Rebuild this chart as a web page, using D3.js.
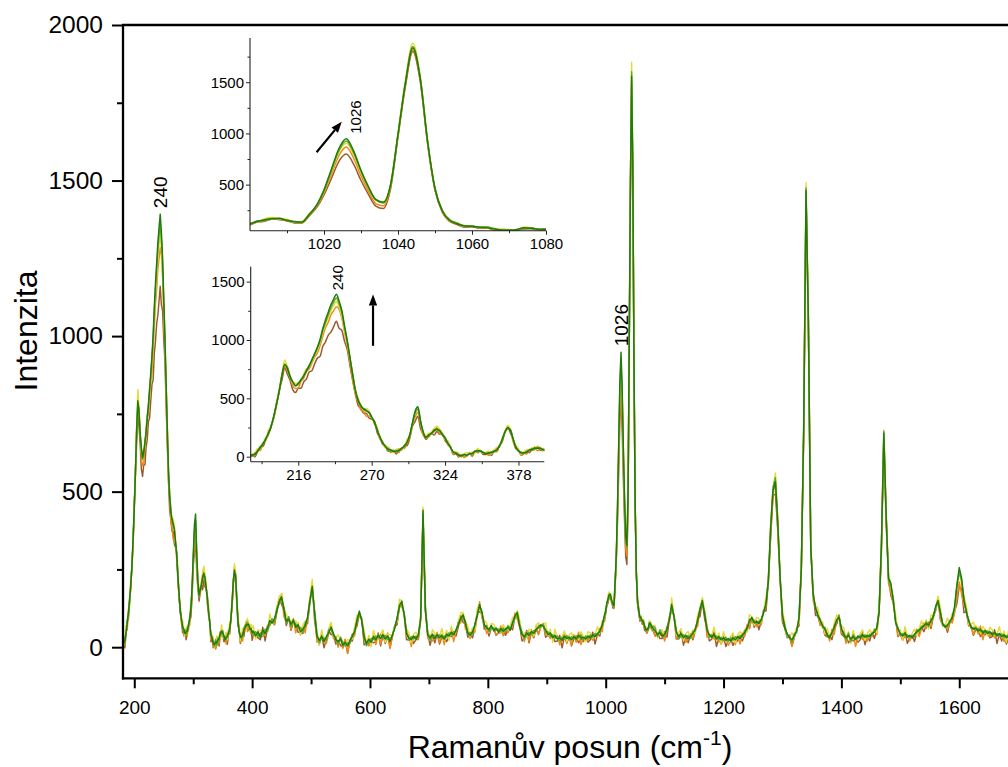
<!DOCTYPE html>
<html>
<head>
<meta charset="utf-8">
<script src="https://cdn.jsdelivr.net/npm/d3@7"></script>
<style>
  html, body { margin: 0; padding: 0; background: #fff; }
  svg { display: block; }
</style>
</head>
<body>
<svg id="chart" width="1008" height="767"></svg>
<script>
// Raman shift sampling blocks [start, end, step] in cm-1 (finer around the two zoomed regions)
const shiftBlocks = [[180, 400, 2], [402, 998, 4], [1000, 1080, 2], [1084, 1700, 4]];

// Spectra, ordered from the earliest (brown) to the latest (dark green) measurement
const spectrumBrown = [
  -12,18,-2,42,84,88,144,190,259,332, 442,574,656,760,706,652,572,549,586,586,
  642,666,726,736,793,844,860,944,983,1040, 1067,1112,1160,1101,1083,990,920,782,656,544,
  440,414,373,372,331,321,304,208,166,108, 92,46,52,52,24,50,58,92,94,157,
  260,303,346,238,190,148,178,200,185,216, 193,196,138,112,86,18,26,-2,12,-4,
  8,32,4,42,38,50,18,18,40,10, 46,44,96,128,206,256,204,150,68,56,
  12,28,46,34,60,60,76,54,52,68,22,
  38,40,30,24,64,20,60,72,82,72, 112,156,138,118,70,94,54,82,72,48,
  48,44,72,76,144,204,86,32,8,40, -2,28,54,40,42,10,22,6,0,24,
  -20,20,20,56,68,110,92,8,10,12, 20,14,18,46,4,38,12,40,-2,34,
  68,72,132,134,108,24,24,32,12,24, 26,96,420,114,46,6,40,14,44,10,
  32,34,18,34,34,44,36,66,102,80, 74,32,42,30,64,112,114,108,58,66,
  36,64,60,38,46,46,56,38,58,62, 56,98,98,70,20,28,54,14,48,30,
  62,42,66,76,32,38,32,34,18,20, 38,-2,34,14,36,4,28,34,14,28,
  18,30,16,24,48,10,42,36,76,84,
  108,134,142,166,156,150,126,126,194,275, 400,560,725,798,700,540,405,290,266,460,
  965,1460,1800,1510,900,446,228,140,110,84, 88,74,78,54,52,45,56,66,68,56, 54,
  38,44,28,28,50,32,88,124,100,26, 28,52,6,36,14,40,24,52,92,98,
  148,90,58,20,26,50,2,32,10,34, 2,22,28,6,22,20,32,20,40,70,
  60,94,64,86,56,84,118,116,208,356, 489,492,379,228,80,60,30,34,4,30,
  60,68,248,671,1447,1010,314,180,102,102, 72,74,38,34,38,24,62,74,100,42,
  34,38,14,24,20,28,16,24,48,8, 36,20,48,28,56,120,306,666,391,226,
  165,144,90,34,42,22,50,12,32,38, 18,46,42,66,50,70,80,60,98,118,
  154,90,70,72,48,78,82,114,140,195, 190,111,114,70,70,38,56,60,34,44,
  40,48,30,34,56,12,42,20,44,10, 32,36,12,28,20
];
const spectrumOrange = [
  -16,20,8,58,54,110,154,188,259,334, 454,556,695,770,743,681,606,584,590,646,
  674,730,752,801,852,886,952,1030,1106,1150, 1214,1250,1284,1262,1190,1070,950,806,660,530,
  470,401,387,346,349,335,280,236,150,128, 78,76,36,42,56,36,76,70,120,163,
  277,340,381,280,180,172,166,208,214,248, 200,190,166,102,82,24,34,2,18,-6,
  12,32,12,48,34,52,28,34,10,32, 56,42,96,130,218,238,238,130,80,60,
  16,38,20,64,52,84,50,72,66,44,50,
  34,42,40,40,34,42,70,70,82,74, 124,138,172,98,82,98,58,92,46,78,
  40,68,46,94,158,180,114,16,28,26, 28,12,44,72,28,28,0,32,-4,26,
  -18,20,42,36,92,98,90,22,22,4, 14,42,8,42,10,46,16,46,-4,38,
  68,80,138,130,110,34,40,2,34,34, 24,96,422,126,28,40,20,26,48,14,
  42,8,48,26,58,18,54,80,78,108, 58,52,28,60,48,102,146,94,76,44,
  62,60,62,40,46,68,36,62,46,60, 70,110,90,64,48,18,50,20,56,34,
  68,40,70,76,40,44,28,36,28,36, 8,20,44,12,36,6,40,16,48,8,
  30,34,20,34,22,40,34,60,50,102,
  110,144,146,164,170,142,136,124,202,286, 420,600,780,868,760,585,435,315,293,480,
  980,1475,1815,1520,908,452,234,142,120,88, 96,78,82,60,62,47,62,70,78,58, 58,
  34,46,38,44,20,54,98,122,100,28, 40,34,40,16,26,44,28,62,66,128,
  140,114,32,38,40,26,30,16,30,20, 32,6,18,38,8,38,10,46,36,72,
  62,94,86,66,80,72,116,130,220,363, 493,530,374,214,86,68,34,40,2,34,
  60,76,254,682,1458,1040,330,150,124,112, 70,74,40,46,20,58,42,86,104,46,
  44,12,44,16,44,2,34,38,24,36, 20,40,34,58,40,110,338,672,424,204,
  176,140,92,36,42,44,30,36,20,36, 32,58,34,60,78,60,76,66,106,122,
  160,88,74,72,56,84,78,110,160,210, 170,133,124,68,70,40,68,42,68,24,
  52,52,34,44,30,42,34,44,18,28, 46,12,40,12,40
];
const spectrumYellow = [
  18,4,24,70,72,124,132,224,257,344, 462,582,715,828,770,700,628,630,630,647,
  708,751,772,816,869,916,979,1061,1132,1188, 1252,1293,1330,1280,1210,1094,976,842,714,552,
  504,438,404,412,392,332,302,254,164,134, 74,86,60,36,62,68,62,94,146,184,
  284,368,408,304,198,182,200,212,244,260, 236,204,144,138,80,34,42,28,-2,22,
  36,20,40,30,72,48,30,38,48,24, 54,80,88,160,208,268,240,144,96,68,
  22,40,60,54,74,60,92,76,50,74,62,
  68,26,56,52,52,56,48,106,80,84, 132,164,172,126,106,86,86,74,84,74,
  42,72,84,86,156,218,106,46,8,56, 20,26,60,80,34,30,40,22,18,2,
  24,24,26,66,104,106,90,54,8,38, 2,54,26,30,42,56,16,42,40,36,
  72,82,154,150,96,58,46,14,42,48, 36,104,450,140,40,22,56,44,30,36,
  60,22,54,22,68,42,48,86,110,112, 82,68,34,62,56,124,140,102,86,78,
  46,76,74,58,60,46,72,60,56,68, 96,90,118,88,36,46,32,58,52,36,
  72,78,62,74,78,36,58,16,58,28, 22,36,52,18,38,46,30,38,24,50,
  34,18,50,46,30,40,66,46,84,90,
  128,134,168,178,164,162,132,140,214,296, 440,625,815,903,795,620,470,350,332,510,
  1010,1520,1880,1565,930,466,248,154,128,94, 100,80,90,64,66,61,56,86,78,60, 70,
  68,30,54,56,38,68,76,158,98,38, 48,60,20,44,50,32,56,44,104,124,
  160,118,70,30,38,64,22,46,10,50, 24,20,34,46,14,40,50,36,58,48,
  104,98,70,96,92,80,116,162,206,397, 511,560,412,212,118,78,34,36,46,32,
  64,78,270,712,1493,1064,336,162,132,126, 82,82,44,60,32,40,78,104,86,68,
  62,26,50,12,54,26,28,44,56,22, 44,56,40,60,48,132,332,698,434,238,
  195,156,104,54,56,22,66,34,30,44, 58,38,62,84,66,88,58,104,102,124,
  164,126,66,70,94,76,108,116,205,238, 204,164,132,74,72,80,58,64,44,66,
  56,36,64,56,38,42,66,30,52,16, 58,30,28,44,50
];
const spectrumGreen = [
  10,4,30,40,88,104,158,196,268,344, 460,556,704,782,768,676,636,604,620,664,
  684,742,770,834,872,930,988,1080,1150,1214, 1276,1322,1360,1310,1236,1110,990,846,710,576,
  490,444,404,390,384,334,304,226,176,114, 96,60,46,56,38,62,66,96,118,180,
  278,372,408,296,212,160,190,196,230,228, 226,184,164,110,84,36,34,20,2,24,
  6,30,20,50,42,54,30,32,24,42, 40,64,86,140,204,238,232,160,90,46,
  40,26,46,50,70,66,80,68,64,52,54,
  38,50,34,46,40,58,50,74,92,80, 126,140,156,128,76,98,66,80,76,60,
  64,46,78,90,142,188,118,46,14,28, 30,22,56,58,36,34,8,32,16,4,
  14,12,42,46,80,110,90,40,4,18, 28,24,36,30,40,30,38,24,30,34,
  66,90,126,140,110,52,22,34,26,36, 32,84,430,128,46,22,36,38,30,40,
  28,36,32,46,40,50,48,80,88,98, 84,40,48,42,76,98,130,116,66,70,
  50,60,62,54,58,50,62,48,70,60, 74,94,106,74,48,28,38,48,42,54,
  50,70,64,74,48,50,36,40,28,36, 20,32,26,38,24,34,26,36,30,40,
  24,36,28,40,32,44,38,58,66,98,
  112,146,150,164,172,146,136,128,204,292, 440,636,830,926,812,628,470,350,320,494,
  986,1500,1850,1545,926,466,246,156,124,92, 98,80,86,72,52,60,54,72,80,60, 68,
  62,34,56,42,34,64,84,130,102,54, 26,36,40,30,38,28,50,52,90,116,
  142,110,62,32,40,34,36,26,32,22, 32,18,30,22,34,26,38,32,54,56,
  90,88,86,74,84,82,118,134,218,392, 515,545,410,228,96,70,36,38,16,44,
  46,98,258,712,1476,1060,330,166,132,96, 92,62,64,32,38,42,70,82,102,56,
  48,22,46,18,40,30,28,38,32,40, 30,42,38,56,58,118,338,694,428,214,
  196,158,76,64,38,44,38,40,30,38, 34,56,50,68,64,82,66,90,94,126,
  144,116,70,70,66,86,90,124,192,244, 214,156,110,90,60,64,54,60,50,54,
  46,52,42,48,40,44,36,42,32,38, 30,36,28,38,28
];
const spectrumDarkGreen = [
  2,14,18,48,76,112,146,204,255,352, 448,566,695,792,755,688,642,610,628,655,
  694,735,782,826,884,936,1004,1096,1172,1236, 1302,1348,1392,1335,1255,1124,996,852,702,566,
  484,436,412,398,376,342,296,232,168,122, 88,66,58,44,48,52,72,88,124,188,
  292,392,428,302,206,168,184,202,224,238, 222,192,158,118,78,42,28,12,8,16,
  14,24,28,44,52,46,38,24,32,34, 48,58,92,148,212,248,228,152,82,52,
  32,34,38,58,62,74,72,74,58,60,46,
  52,36,50,30,56,44,62,86,78,92, 118,148,162,120,84,90,74,88,64,72,
  50,58,68,96,150,196,110,34,22,36, 18,34,46,64,44,24,18,26,6,16,
  4,22,34,52,88,116,84,32,12,26, 16,34,24,38,28,40,26,36,18,40,
  60,96,134,148,104,44,30,24,36,26, 40,92,440,120,38,30,42,28,40,30,
  38,26,42,36,48,40,56,72,94,104, 76,46,38,50,70,104,138,110,72,62,
  56,70,52,62,48,60,52,58,64,54, 80,100,112,66,40,34,46,38,50,44,
  58,62,72,68,56,40,46,30,38,26, 30,22,36,28,32,24,34,26,38,30,
  32,26,36,30,40,34,44,50,72,104,
  118,140,156,170,168,152,140,134,210,300, 450,650,850,948,830,640,480,355,328,500,
  990,1490,1835,1540,920,460,240,150,118,98, 92,86,80,66,58,55,60,78,74,66, 62,
  52,40,48,34,42,56,90,138,96,46, 34,44,30,38,28,36,44,58,84,122,
  150,104,54,40,32,42,26,34,24,30, 22,28,20,30,24,34,28,40,46,62,
  84,96,78,82,76,90,110,140,210,385, 505,532,400,220,104,62,44,30,24,36,
  52,92,250,700,1468,1050,320,172,126,104, 86,70,58,40,30,48,64,88,96,62,
  40,30,38,26,34,24,36,30,40,32, 38,34,44,48,62,112,330,688,420,222,
  205,150,82,58,44,36,46,32,38,30, 42,48,56,62,70,76,72,84,100,132,
  150,110,76,64,72,80,96,130,200,256, 222,150,116,84,66,58,62,52,58,46,
  54,44,50,40,48,36,44,34,40,30, 38,28,36,30,34
];

const seriesColors = ["#9b5a2e", "#f08a12", "#e6da36", "#5dab36", "#217b0c"];
const spectra = [spectrumBrown, spectrumOrange, spectrumYellow, spectrumGreen, spectrumDarkGreen];

// Axis ticks
const mainXTicks = [200, 400, 600, 800, 1000, 1200, 1400, 1600];
const mainXMinor = [300, 500, 700, 900, 1100, 1300, 1500, 1700];
const mainYTicks = [0, 500, 1000, 1500, 2000];
const mainYMinor = [250, 750, 1250, 1750];
const topInsetXTicks = [1020, 1040, 1060, 1080];
const topInsetXMinor = [1010, 1030, 1050, 1070];
const topInsetYTicks = [500, 1000, 1500];
const topInsetYMinor = [250, 750, 1250, 1750];
const lowInsetXTicks = [216, 270, 324, 378];
const lowInsetXMinor = [189, 243, 297, 351];
const lowInsetYTicks = [0, 500, 1000, 1500];
const lowInsetYMinor = [250, 750, 1250];

// Band positions that are labelled
const peakLabels = [240, 1026];

const FONT = "Arial, 'Liberation Sans', Helvetica, sans-serif";
const ramanShift = shiftBlocks.flatMap(([a, b, s]) => d3.range(a, b + s / 2, s));
spectra.forEach((s, i) => {
  if (s.length !== ramanShift.length) console.error("series", i, "length", s.length, "expected", ramanShift.length);
});
const seriesPoints = spectra.map(vals => ramanShift.map((x, i) => [x, vals[i]]));

const svg = d3.select("#chart");
svg.append("rect").attr("width", 1008).attr("height", 767).attr("fill", "#fff");
const defs = svg.append("defs");

function addClip(id, x0, y0, x1, y1) {
  defs.append("clipPath").attr("id", id)
    .append("rect").attr("x", x0).attr("y", y0).attr("width", x1 - x0).attr("height", y1 - y0);
}

function styleAxis(g, fontSize, color, width) {
  g.attr("font-family", FONT).attr("font-size", fontSize);
  g.select(".domain").remove();
  g.selectAll(".tick line").attr("stroke", color).attr("stroke-width", width);
  g.selectAll(".tick text").attr("fill", "#000");
  return g;
}

function drawSpectra(parent, x, y, xDomain, clipId, width, curve) {
  const line = d3.line().x(d => x(d[0])).y(d => y(d[1])).curve(curve);
  const g = parent.append("g").attr("clip-path", `url(#${clipId})`);
  seriesPoints.forEach((pts, i) => {
    const sub = pts.filter(d => d[0] >= xDomain[0] - 4 && d[0] <= xDomain[1] + 4);
    g.append("path").attr("d", line(sub)).attr("fill", "none")
      .attr("stroke", seriesColors[i]).attr("stroke-width", width)
      .attr("stroke-linejoin", "round");
  });
}

function peakTop(center) {
  const top = spectrumDarkGreen;
  let best = -1;
  ramanShift.forEach((x, i) => {
    if (Math.abs(x - center) <= 6 && (best < 0 || top[i] > top[best])) best = i;
  });
  return [ramanShift[best], top[best]];
}

function rotatedLabel(parent, px, py, text, size) {
  parent.append("text").attr("transform", `translate(${px},${py}) rotate(-90)`)
    .attr("font-family", FONT).attr("font-size", size).attr("fill", "#000")
    .attr("text-anchor", "start").text(text);
}

function arrow(parent, x1, y1, x2, y2) {
  const a = Math.atan2(y2 - y1, x2 - x1), L = 11, W = 4.2;
  const bx = x2 - L * Math.cos(a), by = y2 - L * Math.sin(a);
  parent.append("line").attr("x1", x1).attr("y1", y1).attr("x2", bx).attr("y2", by)
    .attr("stroke", "#000").attr("stroke-width", 2.2);
  parent.append("path")
    .attr("d", `M${x2},${y2}L${bx - W * Math.sin(a)},${by + W * Math.cos(a)}L${bx + W * Math.sin(a)},${by - W * Math.cos(a)}Z`)
    .attr("fill", "#000");
}

// ---------- main plot ----------
const xMain = d3.scaleLinear().domain([180, 1800]).range([122.5, 1077.1]);
const yMain = d3.scaleLinear().domain([-100, 2000]).range([678.3, 25]);
addClip("clipMain", 123, 25, 1008, 678.3);
drawSpectra(svg, xMain, yMain, [180, 1800], "clipMain", 1.45, d3.curveLinear);

styleAxis(svg.append("g").attr("transform", "translate(123,0)")
  .call(d3.axisLeft(yMain).tickValues(mainYTicks).tickSize(11).tickPadding(9).tickFormat(d3.format("d"))), 24.5, "#000", 2);
styleAxis(svg.append("g").attr("transform", "translate(123,0)")
  .call(d3.axisLeft(yMain).tickValues(mainYMinor).tickSize(6).tickFormat(() => "")), 24, "#000", 2);
styleAxis(svg.append("g").attr("transform", "translate(0,678.3)")
  .call(d3.axisBottom(xMain).tickValues(mainXTicks).tickSize(10).tickPadding(12).tickFormat(d3.format("d"))), 19, "#000", 2);
styleAxis(svg.append("g").attr("transform", "translate(0,678.3)")
  .call(d3.axisBottom(xMain).tickValues(mainXMinor).tickSize(6).tickFormat(() => "")), 19, "#000", 2);

const frame = svg.append("g").attr("stroke", "#000").attr("stroke-width", 2.3).attr("fill", "none");
frame.append("line").attr("x1", 123).attr("x2", 123).attr("y1", 25).attr("y2", 679.4);
frame.append("line").attr("x1", 121.9).attr("x2", 1008).attr("y1", 678.3).attr("y2", 678.3);
frame.append("line").attr("x1", 121.9).attr("x2", 1008).attr("y1", 25).attr("y2", 25);

svg.append("text").attr("transform", "translate(37,331) rotate(-90)")
  .attr("font-family", FONT).attr("font-size", 32).attr("text-anchor", "middle").attr("fill", "#000")
  .text("Intenzita");
const xTitle = svg.append("text").attr("x", 570).attr("y", 758)
  .attr("font-family", FONT).attr("font-size", 32).attr("text-anchor", "middle").attr("fill", "#000");
xTitle.append("tspan").text("Ramanův posun (cm");
xTitle.append("tspan").attr("font-size", 21).attr("dy", -13).text("-1");
xTitle.append("tspan").attr("dy", 13).text(")");

peakLabels.forEach(p => {
  const [px, py] = peakTop(p);
  rotatedLabel(svg, xMain(px) + 7, yMain(py) - 6, String(p), 19);
});

// ---------- insets ----------
function inset(cfg) {
  const x = d3.scaleLinear().domain(cfg.xDomain).range(cfg.xRange);
  const y = d3.scaleLinear().domain(cfg.yDomain).range(cfg.yRange);
  const g = svg.append("g");
  addClip(cfg.id, cfg.xRange[0], cfg.yRange[1], cfg.xRange[1], cfg.yRange[0]);
  drawSpectra(g, x, y, cfg.xDomain, cfg.id, 1.5, d3.curveMonotoneX);

  const x0 = cfg.xRange[0], yb = cfg.yRange[0];
  styleAxis(g.append("g").attr("transform", `translate(${x0},0)`)
    .call(d3.axisLeft(y).tickValues(cfg.yTicks).tickSize(4).tickPadding(2).tickFormat(d3.format("d"))), 15, "#222", 1);
  styleAxis(g.append("g").attr("transform", `translate(${x0},0)`)
    .call(d3.axisLeft(y).tickValues(cfg.yMinor).tickSize(2.5).tickFormat(() => "")), 15, "#222", 1);
  styleAxis(g.append("g").attr("transform", `translate(0,${yb})`)
    .call(d3.axisBottom(x).tickValues(cfg.xTicks).tickSize(4).tickPadding(4).tickFormat(d3.format("d"))), 15, "#222", 1);
  styleAxis(g.append("g").attr("transform", `translate(0,${yb})`)
    .call(d3.axisBottom(x).tickValues(cfg.xMinor).tickSize(2.5).tickFormat(() => "")), 15, "#222", 1);

  g.append("line").attr("x1", x0).attr("x2", x0).attr("y1", cfg.yRange[1]).attr("y2", yb)
    .attr("stroke", "#222").attr("stroke-width", 1.1);
  g.append("line").attr("x1", x0).attr("x2", cfg.xRange[1]).attr("y1", yb).attr("y2", yb)
    .attr("stroke", "#222").attr("stroke-width", 1.1);

  const [px, py] = peakTop(cfg.peak);
  rotatedLabel(g, x(px) + cfg.labelDx, y(py) - cfg.labelDy, String(cfg.peak), 15);
  arrow(g, x(cfg.arrow[0]), y(cfg.arrow[1]), x(cfg.arrow[2]), y(cfg.arrow[3]));
}

inset({
  id: "clipTop", xDomain: [1000, 1080], yDomain: [50, 1932],
  xRange: [250, 546], yRange: [230.7, 38],
  xTicks: topInsetXTicks, xMinor: topInsetXMinor, yTicks: topInsetYTicks, yMinor: topInsetYMinor,
  peak: peakLabels[1], labelDx: 15, labelDy: 5,
  arrow: [1018, 816, 1024.8, 1115]
});
inset({
  id: "clipLow", xDomain: [181, 397], yDomain: [-43, 1628],
  xRange: [250.7, 544.3], yRange: [461.7, 266.7],
  xTicks: lowInsetXTicks, xMinor: lowInsetXMinor, yTicks: lowInsetYTicks, yMinor: lowInsetYMinor,
  peak: peakLabels[0], labelDx: 7, labelDy: 4,
  arrow: [271, 950, 271, 1390]
});
</script>
</body>
</html>
